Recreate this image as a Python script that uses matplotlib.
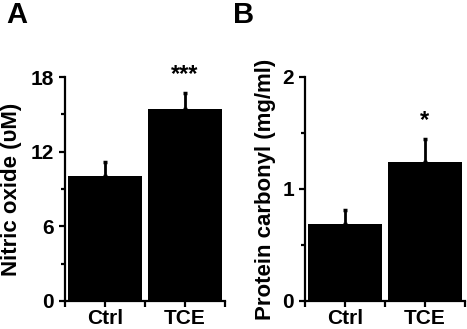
import matplotlib
matplotlib.use("Agg")
import matplotlib.pyplot as plt
from matplotlib.ticker import MultipleLocator

plt.rcParams.update({
    "font.family": "Liberation Sans", "font.weight": "bold",
    "axes.linewidth": 1.6, "xtick.major.width": 1.6, "ytick.major.width": 1.6,
    "ytick.minor.width": 1.6,
})

groups = ["Ctrl", "TCE"]
no_mean = [10.05, 15.4]
no_err = [1.15, 1.3]
pc_mean = [0.69, 1.24]
pc_err = [0.12, 0.21]

fig = plt.figure(figsize=(4.67, 3.29), dpi=100)
W, H = 467, 329

def panel(x0, mean, err, ymax, step, minor, ylabel, star, star_y, letter, lx, lblx):
    ax = fig.add_axes([x0 / W, 28 / H, 160 / W, 224 / H])
    x = range(len(groups))
    ax.bar(x, mean, width=0.92, color="black", zorder=3)
    ax.errorbar(x, mean, yerr=[[0, 0], err], fmt="none", ecolor="black",
                elinewidth=2, capsize=1.5, capthick=2.5, zorder=4)
    ax.set_xlim(-0.5, 1.5)
    ax.set_ylim(0, ymax)
    ax.yaxis.set_major_locator(MultipleLocator(step))
    ax.yaxis.set_minor_locator(MultipleLocator(minor))
    ax.set_xticks([-0.5, 0, 0.5, 1, 1.5])
    ax.set_xticklabels(["", groups[0], "", groups[1], ""])
    ax.tick_params(axis="x", labelsize=15, length=4, pad=2)
    ax.tick_params(axis="y", labelsize=15, length=4, pad=4)
    ax.tick_params(axis="y", which="minor", length=3)
    for s in ["top", "right"]:
        ax.spines[s].set_visible(False)
    ax.set_ylabel(ylabel, fontsize=16, fontweight="bold")
    ax.yaxis.set_label_coords(lblx, 0.5)
    ax.text(1, star_y, star, ha="center", va="center", fontsize=17,
            fontweight="bold", clip_on=False)
    fig.text(lx / W, 1 - 15 / H, letter, fontsize=21, fontweight="bold",
             ha="left", va="center")
    return ax

panel(65, no_mean, no_err, 18, 6, 3, "Nitric oxide (υM)", "***", 18.2, "A", 6, -0.27)
panel(305, pc_mean, pc_err, 2, 1, 0.5, "Protein carbonyl (mg/ml)", "*", 1.61, "B", 233, -0.18)

fig.savefig("out.png", dpi=100)
